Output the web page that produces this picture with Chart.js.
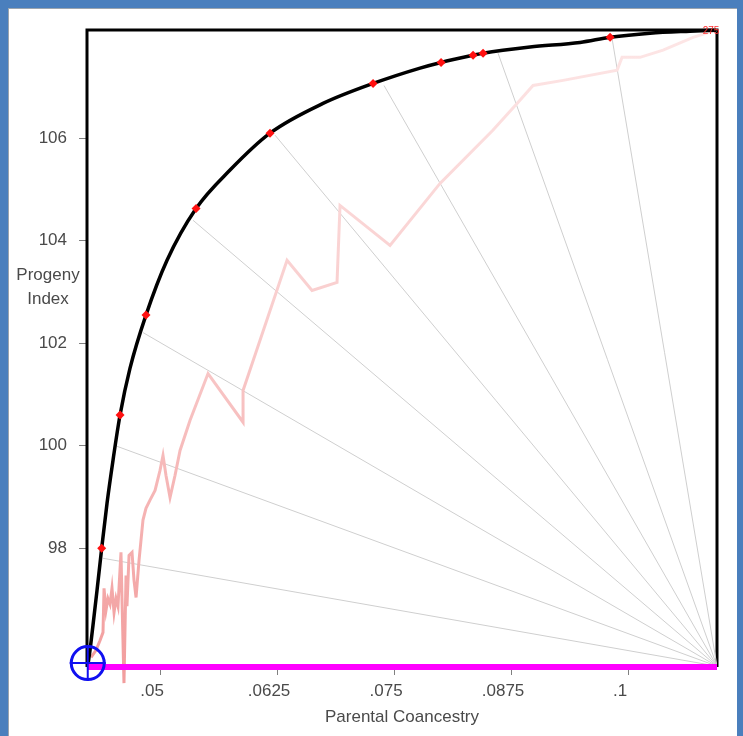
<!DOCTYPE html>
<html>
<head>
<meta charset="utf-8">
<script src="https://cdn.jsdelivr.net/npm/chart.js@4/dist/chart.umd.min.js"></script>
<style>
  html, body { margin: 0; padding: 0; }
  body { width: 743px; height: 736px; position: relative; overflow: hidden; background: #4a7fbd; }
  #panel { position: absolute; left: 8px; top: 8px; width: 729px; height: 728px; background: #fff;
           border-left: 1px solid #9aa4ae; border-top: 1px solid #9aa4ae; box-sizing: border-box; }
  #wrap { position: absolute; left: 0; top: 0; width: 743px; height: 736px; }
</style>
</head>
<body>
<div id="panel"></div>
<div id="wrap"><canvas id="c" width="743" height="736"></canvas></div>
<script>
// Axis ranges and ticks
const xMin = 0.0422, xMax = 0.1095;
const yMin = 95.684, yMax = 108.113;
const xTicks = [0.05, 0.0625, 0.075, 0.0875, 0.1];
const xTickLabels = ['.05', '.0625', '.075', '.0875', '.1'];
const yTicks = [98, 100, 102, 104, 106];

// Optimum frontier (black)
const frontierX = [0.04231, 0.04252, 0.04284, 0.04327, 0.04377, 0.04434, 0.04498, 0.04573, 0.04679, 0.04850,
                   0.05075, 0.05385, 0.05748, 0.06175, 0.06741, 0.07276, 0.07778, 0.08002, 0.08344, 0.08451,
                   0.08953, 0.09487, 0.09808, 0.10235, 0.10662, 0.10940];
const frontierY = [95.74, 96.01, 96.50, 97.18, 98.00, 98.88, 99.72, 100.60, 101.51, 102.55,
                   103.62, 104.63, 105.38, 106.10, 106.68, 107.07, 107.37, 107.48, 107.62, 107.66,
                   107.78, 107.87, 107.97, 108.05, 108.09, 108.11];

// Selected solutions on the frontier (red)
const markerX = [0.04377, 0.04573, 0.04850, 0.05385, 0.06175, 0.07276, 0.08002, 0.08344, 0.08451, 0.09808];
const markerY = [98.00, 100.60, 102.55, 104.63, 106.10, 107.07, 107.48, 107.62, 107.66, 107.97];

// Search trace (pink)
const traceX = [0.04263, 0.04316, 0.04359, 0.04391, 0.04402, 0.04423, 0.04444, 0.04466, 0.04487, 0.04509,
                0.04530, 0.04551, 0.04583, 0.04594, 0.04615, 0.04637, 0.04647, 0.04669, 0.04701, 0.04722,
                0.04744, 0.04776, 0.04797, 0.04818, 0.04850, 0.04893, 0.04947, 0.05000, 0.05032, 0.05064,
                0.05107, 0.05160, 0.05214, 0.05321, 0.05513, 0.05887, 0.05887, 0.06357, 0.06624, 0.06891,
                0.06923, 0.07457, 0.07991, 0.08558, 0.08814, 0.08985, 0.09306, 0.09883, 0.09936, 0.10128,
                0.10374, 0.10694, 0.10940];
const traceY = [95.87, 96.01, 96.20, 96.36, 97.22, 96.79, 97.02, 96.91, 97.22, 96.75,
                97.02, 96.87, 97.92, 96.99, 95.37, 97.47, 96.87, 97.86, 97.92, 97.38,
                97.04, 97.77, 98.16, 98.55, 98.78, 98.94, 99.13, 99.52, 99.81, 99.42,
                98.99, 99.42, 99.91, 100.50, 101.41, 100.46, 101.08, 103.62, 103.03, 103.19,
                104.69, 103.91, 105.12, 106.16, 106.68, 107.03, 107.13, 107.33, 107.58, 107.58,
                107.72, 107.97, 108.11];

// Rays from the lower-right corner to the frontier
const rayOriginX = 0.1095, rayOriginY = 95.70;
const rayEndX = [0.04391, 0.04541, 0.04818, 0.05353, 0.06229, 0.07393, 0.08611, 0.09829];
const rayEndY = [97.805, 99.99, 102.21, 104.40, 106.06, 107.03, 107.66, 107.95];

// Starting point (blue target)
const startX = [0.04228];
const startY = [95.76];

const zip = (xs, ys) => xs.map((x, i) => ({ x: x, y: ys[i] }));

const textColor = '#4a4a4a';
const fontFamily = '"Liberation Sans", Arial, sans-serif';

function traceGradient(context) {
  const chart = context.chart;
  const area = chart.chartArea;
  if (!area) return '#f5b5b5';
  const g = chart.ctx.createLinearGradient(0, area.top, 0, area.bottom);
  g.addColorStop(0, '#fde6e6');
  g.addColorStop(0.45, '#f9cdcd');
  g.addColorStop(1, '#f29e9e');
  return g;
}

const datasets = [
  { // blue target circle
    data: zip(startX, startY), showLine: false, pointStyle: 'circle', pointRadius: 16.5,
    pointBorderWidth: 3, pointBorderColor: '#1010f0', pointBackgroundColor: 'rgba(0,0,0,0)', clip: false
  },
  { // blue target cross
    data: zip(startX, startY), showLine: false, pointStyle: 'cross', pointRadius: 18,
    pointBorderWidth: 2, pointBorderColor: '#1010f0', clip: false
  },
  { // red markers
    data: zip(markerX, markerY), showLine: false, pointStyle: 'rectRot', pointRadius: 4.5,
    pointBorderWidth: 0, pointBackgroundColor: '#ff1010', pointBorderColor: '#ff1010'
  },
  { // baseline
    data: [{ x: xMin, y: yMin }, { x: xMax, y: yMin }], borderColor: '#ff00ff', borderWidth: 6,
    pointRadius: 0, clip: false
  },
  { // frontier
    data: zip(frontierX, frontierY), borderColor: '#000000', borderWidth: 3.5, pointRadius: 0,
    cubicInterpolationMode: 'monotone', clip: false
  },
  { // trace
    data: zip(traceX, traceY), borderColor: traceGradient, borderWidth: 3, pointRadius: 0,
    tension: 0, clip: false
  }
];
rayEndX.forEach((x, i) => {
  datasets.push({
    data: [{ x: rayOriginX, y: rayOriginY }, { x: x, y: rayEndY[i] }],
    borderColor: '#cfcfcf', borderWidth: 1, pointRadius: 0
  });
});

const framePlugin = {
  id: 'frame',
  beforeDatasetsDraw(chart) {
    const { ctx, chartArea: a } = chart;
    ctx.save();
    ctx.strokeStyle = '#000';
    ctx.lineWidth = 3;
    ctx.beginPath();
    ctx.moveTo(a.left, a.bottom);
    ctx.lineTo(a.left, a.top);
    ctx.lineTo(a.right, a.top);
    ctx.lineTo(a.right, a.bottom);
    ctx.stroke();
    ctx.restore();
  },
  afterDatasetsDraw(chart) {
    const { ctx, chartArea: a } = chart;
    ctx.save();
    ctx.fillStyle = '#ff3030';
    ctx.font = '10px ' + fontFamily;
    ctx.textAlign = 'center';
    ctx.textBaseline = 'middle';
    ctx.fillText('275', a.right - 6, a.top + 1);
    ctx.restore();
  },
  afterDraw(chart) {
    const { ctx } = chart;
    ctx.save();
    ctx.fillStyle = textColor;
    ctx.font = '17px ' + fontFamily;
    ctx.textAlign = 'center';
    ctx.textBaseline = 'middle';
    ctx.fillText('Progeny', 48, 275);
    ctx.fillText('Index', 48, 299);
    ctx.restore();
  }
};

new Chart(document.getElementById('c'), {
  type: 'line',
  data: { datasets: datasets },
  plugins: [framePlugin],
  options: {
    responsive: false,
    devicePixelRatio: 1,
    animation: false,
    events: [],
    layout: { padding: { top: 30, right: 26, left: 0, bottom: 0 } },
    plugins: { legend: { display: false }, tooltip: { enabled: false } },
    scales: {
      x: {
        type: 'linear', min: xMin, max: xMax,
        afterBuildTicks: (scale) => { scale.ticks = xTicks.map(v => ({ value: v })); },
        afterFit: (scale) => { scale.height = 69; },
        border: { display: false },
        grid: { drawOnChartArea: false, tickLength: 8, color: '#808080', tickWidth: 1 },
        ticks: {
          color: textColor, font: { size: 17, family: fontFamily }, padding: 6, labelOffset: -8,
          autoSkip: false, maxRotation: 0,
          callback: (v) => {
            const i = xTicks.findIndex(t => Math.abs(t - v) < 1e-9);
            return i >= 0 ? xTickLabels[i] : '';
          }
        },
        title: {
          display: true, text: 'Parental Coancestry', color: textColor,
          font: { size: 17, family: fontFamily }, padding: { top: 0, bottom: 8 }
        }
      },
      y: {
        type: 'linear', min: yMin, max: yMax,
        afterBuildTicks: (scale) => { scale.ticks = yTicks.map(v => ({ value: v })); },
        afterFit: (scale) => { scale.width = 87; },
        border: { display: false },
        grid: { drawOnChartArea: false, tickLength: 8, color: '#808080', tickWidth: 1 },
        ticks: {
          color: textColor, font: { size: 17, family: fontFamily }, padding: 12,
          callback: (v) => String(v)
        }
      }
    }
  }
});
</script>
</body>
</html>
